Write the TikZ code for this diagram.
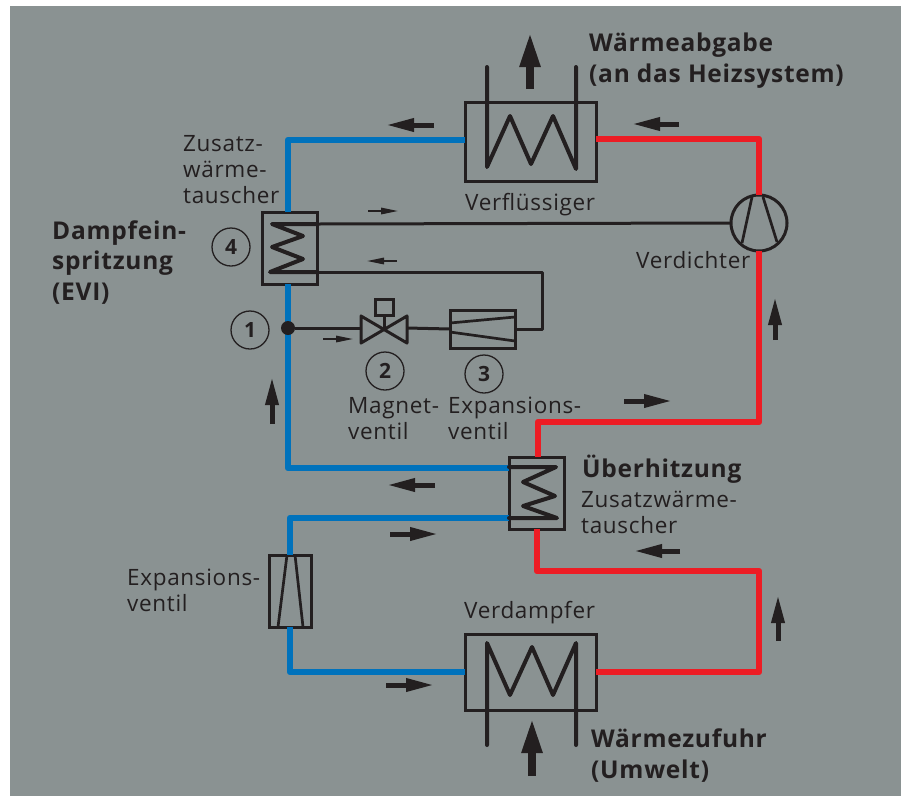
\documentclass[tikz,border=0pt]{standalone}
\usepackage{fontspec}
\setmainfont{Open Sans}[LetterSpace=3]
\usetikzlibrary{arrows.meta}
\definecolor{panel}{HTML}{8A9292}
\definecolor{ink}{HTML}{231F20}
\definecolor{coolpipe}{HTML}{0072BC}
\definecolor{hotpipe}{HTML}{ED1C24}
\tikzset{
  lbl/.style={font=\fontsize{22.5}{26}\selectfont,anchor=base west,align=left,inner sep=0pt,text=ink},
  boldlbl/.style={font=\fontsize{24.5}{30.5}\selectfont\bfseries,anchor=base west,align=left,inner sep=0pt,text=ink},
  hxbox/.style={draw=ink,line width=3pt,rectangle,inner sep=0pt,outer sep=0pt},
  numring/.style={draw=ink,line width=1.3pt,circle,minimum size=38pt,inner sep=0pt,text=ink,font=\fontsize{21}{21}\selectfont\bfseries},
  coolline/.style={draw=coolpipe,line width=6.5pt,line join=round},
  hotline/.style={draw=hotpipe,line width=6.5pt,line join=round},
  thinline/.style={draw=ink,line width=3pt,line join=round},
  coil/.style={draw=ink,line width=4pt,line join=round,line cap=round},
  flowmark/.style={draw=ink,line width=5pt,-{Triangle[length=28pt,width=12.5pt]}},
  tinymark/.style={draw=ink,line width=1.6pt,-{Triangle[length=17pt,width=6.5pt]}},
  heatmark/.style={draw=ink,line width=8pt,-{Triangle[length=35pt,width=19pt]}}
}
\begin{document}
\begin{tikzpicture}[x=1pt,y=-1pt]
\useasboundingbox (0,0) rectangle (901,796);
\fill[panel] (10,6) rectangle (901,796);
\node[hxbox,minimum width=131pt,minimum height=79pt] (verfl) at (530.5,141.5) {};
\node[hxbox,minimum width=131pt,minimum height=76pt] (verda) at (530.5,672) {};
\node[hxbox,minimum width=55pt,minimum height=72pt] (zusatz) at (289.5,248) {};
\node[hxbox,minimum width=55pt,minimum height=72pt] (ueber) at (536.5,493) {};
\node[hxbox,minimum width=65pt,minimum height=38pt] (expa) at (482.5,329) {};
\node[hxbox,minimum width=42pt,minimum height=72pt] (expb) at (290,591) {};
\node[draw=ink,line width=3pt,circle,minimum size=56pt,inner sep=0pt,outer sep=0pt] (verd) at (759,223) {};
\node[hxbox,minimum width=18pt,minimum height=16pt] (magnet) at (384,307) {};
\coordinate (ventil) at (384,328);
\coordinate (verfl w) at (465,140);
\coordinate (verfl e) at (596,139);
\coordinate (zusatz n) at (288,212);
\coordinate (zusatz s) at (288,284);
\coordinate (zusatz a) at (317,224);
\coordinate (zusatz b) at (317,272);
\coordinate (ueber n) at (538,457);
\coordinate (ueber s) at (537,529);
\coordinate (ueber a) at (509,468);
\coordinate (ueber b) at (509,518);
\coordinate (expb n) at (290,555);
\coordinate (expb s) at (290,627);
\coordinate (ventil w) at (361,328);
\coordinate (ventil e) at (407,328);
\draw[coolline] (verfl w) -| (zusatz n);
\draw[coolline] (zusatz s) -- (288,468) -- (ueber a);
\draw[coolline] (ueber b) -| (expb n);
\draw[coolline] (expb s) |- (verda.west);
\draw[hotline] (verfl e) -| (verd.north);
\draw[hotline] (verd.south) -- (759,422) -- (538,422) -- (ueber n);
\draw[hotline] (ueber s) |- (759,571) |- (verda.east);
\node[circle,fill=ink,minimum size=14pt,inner sep=0pt] (knot) at (288,328) {};
\draw[thinline] (zusatz a) -- (verd.west);
\draw[thinline] (zusatz b) -- (542,272) |- (expa.east);
\draw[thinline] (expa.west) -- (ventil e);
\draw[thinline] (ventil w) -- (knot);
\draw[thinline] (magnet.south) -- (ventil);
\draw[thinline] (361,316) -- (407,343) -- (407,316) -- (361,343) -- cycle;
\draw[line width=2.7pt,draw=ink] (752,197) -- (742,243) (763,197) -- (777,242);
\draw[line width=2.7pt,draw=ink] (450,323) -- (515,317) (450,332) -- (515,341);
\draw[line width=2.7pt,draw=ink] (287,555) -- (278,627) (295,555) -- (303,627);
\draw[coil] (487,67) -- (487,167) -- (510,116) -- (531,164) -- (553,116) -- (576,169) -- (576,67);
\draw[coil] (487,745) -- (487,643) -- (510,695) -- (532,647) -- (553,695) -- (576,643) -- (576,745);
\draw[coil] (317,224) -- (272,224) -- (303,236) -- (272,247) -- (303,259) -- (270,272) -- (317,272);
\draw[coil] (509,467) -- (556,467) -- (523,482) -- (555,496) -- (523,506) -- (557,518) -- (509,518);
\foreach \xa/\ya/\xb/\yb in {434/125/386/125,679/124/632/124,272/424/272/377,775/340/775/297,624/401/672/401,435/485/387/485,390/534/438/534,680/551/634/551,778/641/778/595,386/685/434/685}
  \draw[flowmark] (\xa,\ya) -- (\xb,\yb);
\foreach \xa/\ya/\xb/\yb in {368/211/398/211,397/261/367/261,323/339/353/339}
  \draw[tinymark] (\xa,\ya) -- (\xb,\yb);
\draw[heatmark] (530,89) -- (530,32);
\draw[heatmark] (532,776) -- (532,718);
\node[numring] (ring four) at (231,247) {4};
\node[numring] (ring one) at (250,330) {1};
\node[numring] (ring two) at (385,371) {2};
\node[numring] (ring three) at (484,374) {3};
\node[boldlbl] (abgabe) at (589,82) {Wärmeabgabe\\(an das Heizsystem)};
\node[boldlbl] (zufuhr) at (591,778) {Wärmezufuhr\\(Umwelt)};
\node[boldlbl] (evi) at (52,300) {Dampfein-\\spritzung\\(EVI)};
\node[boldlbl] (hitze) at (582,477) {Überhitzung};
\node[lbl] (t verfl) at (465,210) {Verflüssiger};
\node[lbl] (t verd) at (636,268) {Verdichter};
\node[lbl] (t verda) at (464,618) {Verdampfer};
\node[lbl] (t zusatz) at (183,203) {Zusatz-\\wärme-\\tauscher};
\node[lbl] (t magnet) at (348,439) {Magnet-\\ventil};
\node[lbl] (t expa) at (448,439) {Expansions-\\ventil};
\node[lbl] (t expb) at (127,611) {Expansions-\\ventil};
\node[lbl] (t ueber) at (581,533) {Zusatzwärme-\\tauscher};
\end{tikzpicture}
\end{document}
